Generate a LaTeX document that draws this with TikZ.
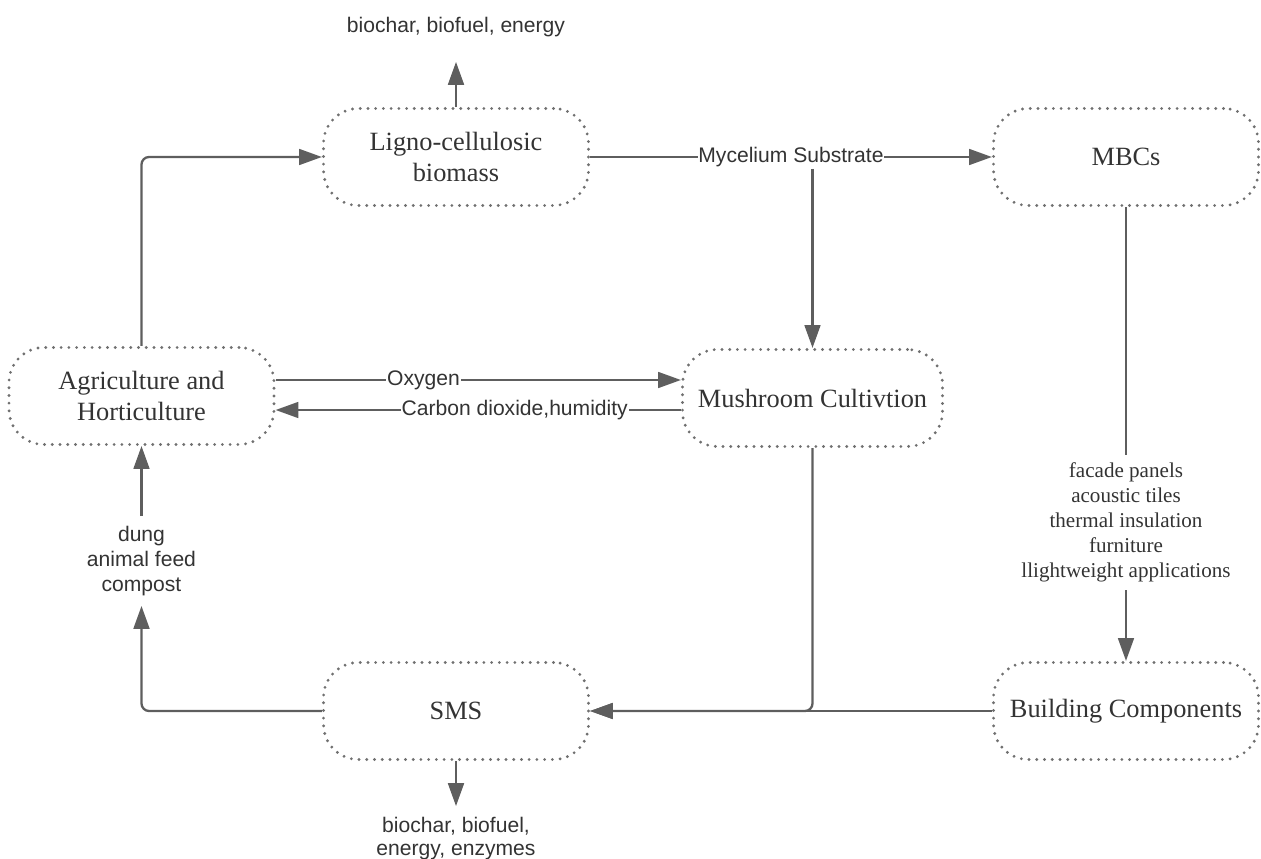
\documentclass[tikz,border=0pt]{standalone}
\usepackage{fontspec}
\setmainfont{Liberation Serif}
\setsansfont{Liberation Sans}
\usetikzlibrary{calc, positioning, arrows.meta}
\definecolor{linegray}{HTML}{5E5E5E}
\definecolor{dotgray}{HTML}{707070}
\definecolor{txtgray}{HTML}{333333}
\tikzset{
    box/.style={draw=dotgray, line width=1.8pt, dash pattern=on 0pt off 4.4pt,
        line cap=round, rounded corners=0.7cm, minimum width=5.3cm,
        minimum height=1.94cm, align=center, text=txtgray,
        font=\fontsize{15}{18}\selectfont},
    flow/.style={draw=linegray, line width=1.3pt, -{Triangle[length=13pt, width=9pt]}},
    lbl/.style={font=\fontsize{12}{14}\selectfont\sffamily, text=txtgray, fill=white, inner sep=0.5pt},
    note/.style={font=\fontsize{12}{14.2}\selectfont\sffamily, text=txtgray, align=center},
    uses/.style={font=\fontsize{12}{14.2}\selectfont, text=txtgray, align=center, inner sep=4.5pt}
}
\begin{document}
\begin{tikzpicture}[node distance = 4.8cm, on grid]
      \useasboundingbox (0,0) rectangle (25.22,-17.18);
      \node[box] (ligno) at (9.12,-3.14) {Ligno-cellulosic\\biomass};
      \node[box] (mbc) [right = 13.4cm of ligno] {MBCs};
      \node[box] (agri) [below left = 4.78cm and 6.29cm of ligno] {Agriculture and\\Horticulture};
      \node[box, minimum width=5.2cm] (mush) [below right = 4.82cm and 7.13cm of ligno] {Mushroom Cultivtion};
      \node[box] (sms) [below = 11.08cm of ligno] {SMS};
      \node[box] (build) [below = 11.08cm of mbc] {Building Components};

      % products and labels
      \node[note] (lignoout) [above = 2.6cm of ligno] {biochar, biofuel, energy};
      \coordinate (lignotip) at ($(ligno.north)+(0,0.9)$);
      \node[note, font=\fontsize{12}{13}\selectfont\sffamily] (smsout) [below = 2.55cm of sms] {biochar, biofuel,\\energy, enzymes};
      \coordinate (smstip) at ($(sms.south)+(0,-0.9)$);
      \node[note, inner sep=5.6pt] (dung) [below = 3.3cm of agri] {dung\\animal feed\\compost};
      \node[uses] (apps) [below = 7.31cm of mbc] {facade panels\\acoustic tiles\\thermal insulation\\furniture\\llightweight applications};

      \path
        (ligno) edge[flow] node[lbl] (myc) {Mycelium Substrate} (mbc)
        (ligno.north) edge[flow] (lignotip)
        (sms.south) edge[flow] (smstip)
        (apps) edge[flow] (build)
        (dung) edge[flow] (agri);
      \draw[flow, rounded corners=0.15cm] (agri.north) |- (ligno.west);
      \draw[flow] (myc.south -| mush.north) -- (mush.north);
      \draw[flow] ([yshift=0.32cm]agri.east) -- node[lbl, pos=0.365] {Oxygen}
        ([yshift=0.32cm]agri.east -| mush.west);
      \draw[flow] ([yshift=-0.24cm]mush.west) -- node[lbl, pos=0.41] {Carbon dioxide,humidity}
        ([yshift=-0.24cm]mush.west -| agri.east);
      \draw[flow, rounded corners=0.15cm] (mush.south) |- (sms.east);
      \draw[flow, line width=1pt] (build.west) -- (sms.east);
      \draw[flow, rounded corners=0.15cm] (sms.west) -| (dung.south);
      \draw[draw=linegray, line width=1.3pt] (mbc.south) -- (apps.north);
\end{tikzpicture}
\end{document}
